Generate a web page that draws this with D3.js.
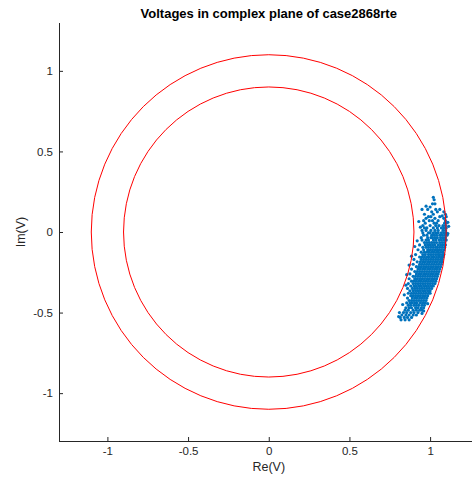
<!DOCTYPE html>
<html>
<head>
<meta charset="utf-8">
<script src="https://cdn.jsdelivr.net/npm/d3@7.9.0/dist/d3.min.js"></script>
<style>
  body { margin: 0; background: #fff; }
  svg { display: block; font-family: "Liberation Sans", Arial, Helvetica, sans-serif; }
</style>
</head>
<body>
<svg id="chart" width="472" height="479"></svg>
<script>
const titleText = "Voltages in complex plane of case2868rte";
const xLabel = "Re(V)";
const yLabel = "Im(V)";

const xTicks = [-1, -0.5, 0, 0.5, 1];
const xTickLabels = ["-1", "-0.5", "0", "0.5", "1"];
const yTicks = [-1, -0.5, 0, 0.5, 1];
const yTickLabels = ["-1", "-0.5", "0", "0.5", "1"];

// voltage magnitude limits drawn as circles
const circleRadii = [0.9, 1.1];

const imLevels = [
  0.215, 0.2, 0.175, 0.155, 0.14, 0.125, 0.11, 0.095, 0.085, 0.07, 0.055, 0.04, 0.025, 0.01,
  -0.005, -0.02, -0.035, -0.05, -0.065, -0.08, -0.095, -0.11, -0.125, -0.14, -0.155, -0.17,
  -0.185, -0.2, -0.215, -0.23, -0.245, -0.26, -0.275, -0.29, -0.305, -0.32, -0.335, -0.35,
  -0.365, -0.38, -0.395, -0.41, -0.425, -0.44, -0.455, -0.47, -0.485, -0.5, -0.515, -0.53, -0.545
];
const reAtLevel = [
  [1.02],
  [1.025],
  [1.03, 1.015],
  [1.0],
  [1.035, 0.985],
  [1.01, 1.045, 1.085],
  [0.965, 1.02, 1.095],
  [0.99, 1.005, 1.06, 1.1],
  [0.975, 1.03, 1.085],
  [0.96, 0.995, 1.015, 1.05, 1.095],
  [0.97, 1.025, 1.04, 1.09, 1.1],
  [0.955, 1.0, 1.035, 1.055, 1.08, 1.095],
  [0.965, 0.98, 1.02, 1.045, 1.07, 1.085, 1.1],
  [0.95, 0.975, 1.005, 1.03, 1.05, 1.08, 1.095],
  [0.955, 0.99, 1.0, 1.02, 1.035, 1.05, 1.07, 1.085, 1.1],
  [0.96, 0.98, 1.01, 1.025, 1.04, 1.06, 1.075, 1.09, 1.105],
  [0.945, 0.985, 1.005, 1.015, 1.03, 1.045, 1.065, 1.08, 1.095],
  [0.95, 0.975, 0.99, 1.02, 1.035, 1.055, 1.07, 1.085, 1.1],
  [0.965, 0.98, 0.995, 1.01, 1.025, 1.04, 1.06, 1.075, 1.09],
  [0.935, 0.97, 0.985, 1.0, 1.015, 1.03, 1.05, 1.065, 1.08, 1.095],
  [0.955, 0.975, 0.99, 1.005, 1.02, 1.035, 1.045, 1.06, 1.075, 1.09],
  [0.925, 0.96, 0.985, 1.0, 1.015, 1.03, 1.045, 1.055, 1.07, 1.085],
  [0.945, 0.965, 0.98, 0.995, 1.01, 1.025, 1.04, 1.05, 1.065, 1.08],
  [0.91, 0.955, 0.97, 0.99, 1.005, 1.02, 1.035, 1.05, 1.06, 1.075, 1.085],
  [0.935, 0.95, 0.965, 0.98, 0.995, 1.01, 1.025, 1.04, 1.055, 1.07, 1.08],
  [0.9, 0.945, 0.96, 0.975, 0.99, 1.005, 1.02, 1.035, 1.05, 1.065, 1.075],
  [0.92, 0.94, 0.955, 0.97, 0.985, 1.0, 1.015, 1.03, 1.045, 1.06, 1.075],
  [0.895, 0.935, 0.95, 0.965, 0.98, 0.995, 1.01, 1.025, 1.04, 1.055, 1.07],
  [0.915, 0.93, 0.945, 0.96, 0.975, 0.99, 1.005, 1.02, 1.035, 1.05, 1.065],
  [0.885, 0.925, 0.94, 0.955, 0.97, 0.985, 1.0, 1.015, 1.03, 1.045, 1.06],
  [0.905, 0.92, 0.935, 0.95, 0.965, 0.98, 0.995, 1.01, 1.025, 1.04, 1.055],
  [0.875, 0.915, 0.93, 0.945, 0.96, 0.975, 0.99, 1.005, 1.02, 1.035, 1.05],
  [0.895, 0.91, 0.925, 0.94, 0.955, 0.97, 0.985, 1.0, 1.015, 1.03, 1.045],
  [0.87, 0.905, 0.92, 0.935, 0.95, 0.965, 0.98, 0.995, 1.01, 1.025, 1.04],
  [0.885, 0.9, 0.915, 0.93, 0.945, 0.96, 0.975, 0.99, 1.005, 1.02, 1.035],
  [0.865, 0.895, 0.91, 0.925, 0.94, 0.955, 0.97, 0.985, 1.0, 1.015, 1.03],
  [0.88, 0.9, 0.915, 0.93, 0.945, 0.96, 0.975, 0.99, 1.005, 1.02],
  [0.86, 0.89, 0.905, 0.92, 0.935, 0.95, 0.965, 0.98, 0.995, 1.01],
  [0.875, 0.895, 0.91, 0.925, 0.94, 0.955, 0.97, 0.985, 1.0],
  [0.865, 0.885, 0.9, 0.915, 0.93, 0.945, 0.96, 0.975, 0.99, 1.0],
  [0.88, 0.895, 0.91, 0.925, 0.94, 0.955, 0.97, 0.985],
  [0.86, 0.89, 0.905, 0.92, 0.935, 0.95, 0.965, 0.98],
  [0.87, 0.885, 0.9, 0.915, 0.93, 0.945, 0.96, 0.975],
  [0.855, 0.875, 0.89, 0.905, 0.92, 0.94, 0.955, 0.97],
  [0.865, 0.88, 0.9, 0.915, 0.93, 0.95, 0.965],
  [0.85, 0.87, 0.885, 0.91, 0.925, 0.945, 0.96],
  [0.845, 0.865, 0.895, 0.915, 0.935, 0.95],
  [0.835, 0.855, 0.88, 0.9, 0.925],
  [0.825, 0.85, 0.87, 0.895, 0.915],
  [0.815, 0.84, 0.86, 0.885],
  [0.82, 0.845, 0.87]
];

// isolated buses around the edge of the cloud, as [re, im]
const outlierBuses = [
  [0.905, -0.09], [0.92, -0.055], [0.885, -0.15], [0.87, -0.205], [0.855, -0.265],
  [0.85, -0.33], [0.84, -0.39], [0.83, -0.45], [0.81, -0.5], [0.805, -0.525],
  [1.11, 0.06], [1.115, 0.035], [1.11, -0.01], [0.94, 0.03], [0.93, 0.065],
  [0.95, 0.14], [0.975, 0.16], [1.06, 0.14], [1.075, 0.1], [0.95, -0.505],
  [0.96, -0.49], [0.985, -0.445]
];

const axisColor = "#262626";
const pointColor = "#0072BD";

const svg = d3.select("#chart");

const x = d3.scaleLinear().domain([-1.3, 1.3]).range([59, 478.5]);
const y = d3.scaleLinear().domain([-1.3, 1.3]).range([441.5, 22.5]);

const points = [];
imLevels.forEach((im, i) => {
  reAtLevel[i].forEach(re => points.push({ re: re, im: im }));
});
outlierBuses.forEach(d => points.push({ re: d[0], im: d[1] }));

// scatter of bus voltages
svg.append("g")
  .selectAll("circle")
  .data(points)
  .join("circle")
  .attr("cx", d => x(d.re))
  .attr("cy", d => y(d.im))
  .attr("r", 1.6)
  .attr("fill", pointColor);

// limit circles
svg.append("g")
  .selectAll("ellipse")
  .data(circleRadii)
  .join("ellipse")
  .attr("cx", x(0))
  .attr("cy", y(0))
  .attr("rx", r => x(r) - x(0))
  .attr("ry", r => y(0) - y(r))
  .attr("fill", "none")
  .attr("stroke", "#ff0000")
  .attr("stroke-width", 1);

// axes, ticks pointing inwards
const xAxis = svg.append("g")
  .attr("transform", `translate(0,${Math.floor(y(-1.3))})`)
  .call(d3.axisBottom(x)
    .tickValues(xTicks)
    .tickFormat((d, i) => xTickLabels[i])
    .tickSizeInner(-4)
    .tickSizeOuter(0)
    .tickPadding(6));

const yAxis = svg.append("g")
  .attr("transform", `translate(${Math.floor(x(-1.3))},0)`)
  .call(d3.axisLeft(y)
    .tickValues(yTicks)
    .tickFormat((d, i) => yTickLabels[i])
    .tickSizeInner(-4)
    .tickSizeOuter(0)
    .tickPadding(6));

[xAxis, yAxis].forEach(g => {
  g.select(".domain").attr("stroke", axisColor);
  g.selectAll(".tick line").attr("stroke", axisColor);
  g.selectAll(".tick text")
    .attr("fill", axisColor)
    .attr("font-size", "11.5px")
    .attr("font-family", "Liberation Sans, Arial, sans-serif");
});

svg.append("text")
  .attr("x", x(0))
  .attr("y", 18)
  .attr("text-anchor", "middle")
  .attr("font-size", "13px")
  .attr("font-weight", "bold")
  .attr("fill", "#000")
  .text(titleText);

svg.append("text")
  .attr("x", x(0))
  .attr("y", 471)
  .attr("text-anchor", "middle")
  .attr("font-size", "12.5px")
  .attr("fill", axisColor)
  .text(xLabel);

svg.append("text")
  .attr("transform", `translate(25,${y(0)}) rotate(-90)`)
  .attr("text-anchor", "middle")
  .attr("font-size", "12.5px")
  .attr("fill", axisColor)
  .text(yLabel);
</script>
</body>
</html>
